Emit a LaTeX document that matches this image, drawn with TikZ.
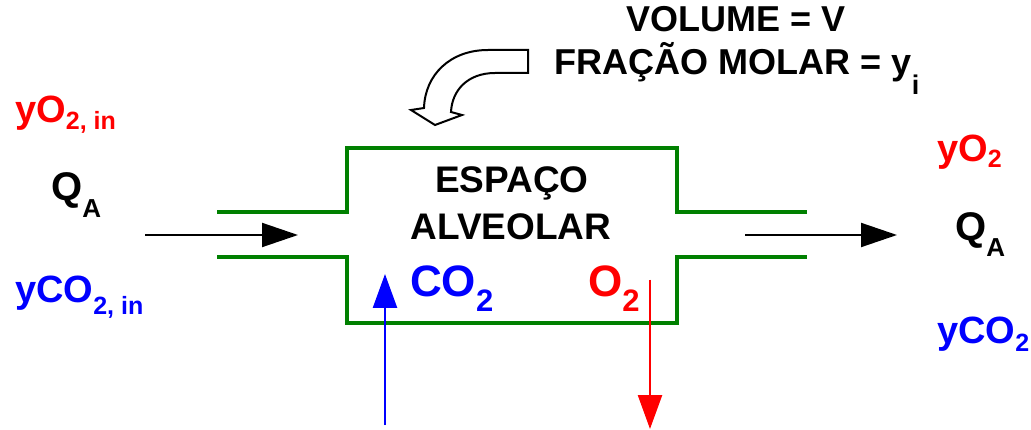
\documentclass[tikz,border=0pt]{standalone}
\usepackage{fontspec}
\setmainfont{Liberation Sans}
\usetikzlibrary{arrows.meta}
\definecolor{tubegreen}{RGB}{0,128,0}
\newcommand{\fs}[1]{\fontsize{#1}{#1}\selectfont}
\newcommand{\lb}[4]{{\fs{#1}#2\raisebox{-#4pt}{\fs{#3}#2X}}}
\begin{document}
\begin{tikzpicture}[x=1pt,y=-1pt,
  txt/.style={inner sep=0pt,font=\bfseries},
  tube/.style={draw=tubegreen,line width=4pt},
  flow/.style={line width=2pt,-{Triangle[length=36pt,width=24pt]}},
  gasflow/.style={line width=2.5pt,-{Triangle[length=34pt,width=24pt]}}]
\useasboundingbox (0,0) rectangle (1031,430);
% alveolar space
\draw[tube] (217,212) -- (347,212) -- (347,148) -- (677,148) -- (677,212) -- (807,212);
\draw[tube] (217,257) -- (347,257) -- (347,323) -- (677,323) -- (677,257) -- (807,257);
% labels in box
\node[txt,anchor=base] (esp) at (512,193) {\fs{37}ESPAÇO};
\node[txt,anchor=base] (alv) at (511,240) {\fs{37}ALVEOLAR};
\node[txt,anchor=base west,text=blue] (co2) at (410,297) {\fs{44}CO\raisebox{-15pt}{\fs{31}2}};
\node[txt,anchor=base west,text=red] (o2) at (588,297) {\fs{44}O\raisebox{-15pt}{\fs{31}2}};
% top text
\node[txt,anchor=base] (vol) at (736,32) {\fs{36}VOLUME = V};
\node[txt,anchor=base] (fra) at (737,75) {\fs{36}FRAÇÃO MOLAR = y\raisebox{-20pt}{\fs{27}i}};
% curved hollow arrow
\draw[line width=2pt,fill=white,line join=miter] (528,50) -- (488,50)
  .. controls (450,50) and (425,75) .. (424,108) -- (411,110) -- (435,125) -- (462,115) -- (451,112)
  .. controls (452,90) and (468,73) .. (495,73) -- (528,73) -- cycle;
% left labels
\node[txt,anchor=base west,text=red] (yo2in) at (15,123) {\fs{38}yO\raisebox{-7pt}{\fs{25}2, in}};
\node[txt,anchor=base west] (qa1) at (51,201) {\fs{40}Q\raisebox{-17pt}{\fs{26}A}};
\node[txt,anchor=base west,text=blue] (yco2in) at (15,303) {\fs{38}yCO\raisebox{-12pt}{\fs{25}2, in}};
% right labels
\node[txt,anchor=base west,text=red] (yo2) at (937,162) {\fs{38}yO\raisebox{-6pt}{\fs{25}2}};
\node[txt,anchor=base west] (qa2) at (955,241) {\fs{40}Q\raisebox{-16pt}{\fs{26}A}};
\node[txt,anchor=base west,text=blue] (yco2) at (937,344) {\fs{38}yCO\raisebox{-8pt}{\fs{25}2}};
% flow arrows
\coordinate (inS) at (145,235);
\coordinate (inE) at (298,235);
\coordinate (outS) at (745,235);
\coordinate (outE) at (897,235);
\draw[flow] (inS) -- (inE);
\draw[flow] (outS) -- (outE);
\coordinate (cS) at (385,425);
\coordinate (cE) at (385,274);
\coordinate (oS) at (650,280);
\coordinate (oE) at (650,429);
\draw[gasflow,draw=blue,fill=blue] (cS) -- (cE);
\draw[gasflow,draw=red,fill=red] (oS) -- (oE);
\end{tikzpicture}
\end{document}
